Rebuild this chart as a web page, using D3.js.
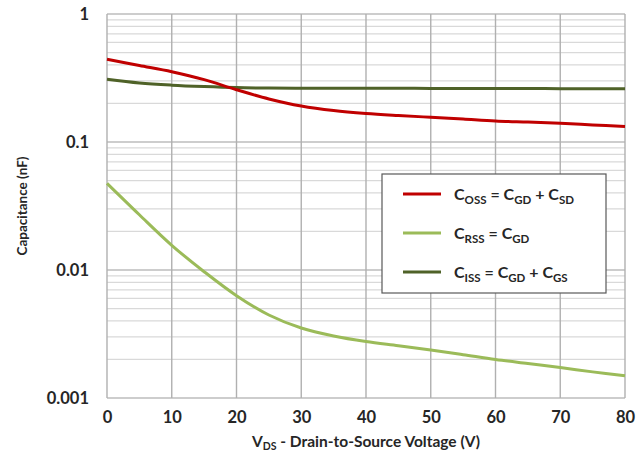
<!DOCTYPE html>
<html><head><meta charset="utf-8">
<script src="https://cdn.jsdelivr.net/npm/d3@7"></script>
<style>
html,body{margin:0;padding:0;background:#fff;}
svg{display:block;font-family:Lato,"Open Sans",sans-serif;}
</style></head>
<body><svg id="c" width="636" height="465"></svg>
<script>
const vds = [0,5,10,15,20,25,30,35,40,45,50,55,60,65,70,75,80];
const coss = [0.443,0.396,0.354,0.307,0.256,0.217,0.191,0.176,0.167,0.161,0.156,0.151,0.146,0.143,0.140,0.136,0.132];
const crss = [0.0475,0.0270,0.0156,0.0097,0.00630,0.00445,0.00352,0.00305,0.00276,0.00256,0.00237,0.00218,0.0020,0.00186,0.00173,0.0016,0.00149];
const ciss = [0.309,0.289,0.278,0.271,0.266,0.264,0.263,0.263,0.263,0.263,0.262,0.262,0.262,0.262,0.261,0.261,0.261];
const xTicks = [0,10,20,30,40,50,60,70,80];
const yTicks = [1,0.1,0.01,0.001];
const yTickLabels = ["1","0.1","0.01","0.001"];

const svg = d3.select("#c");
const L=107,R=625,T=14,B=398;
const x = d3.scaleLinear().domain([0,80]).range([L,R]);
const y = d3.scaleLog().domain([0.001,1]).range([B,T]);

const minor=[];
[0.001,0.01,0.1].forEach(d=>{for(let k=2;k<=9;k++)minor.push(d*k);});
svg.append("g").selectAll("line").data(minor).join("line")
  .attr("x1",L).attr("x2",R).attr("y1",d=>y(d)).attr("y2",d=>y(d))
  .attr("stroke","#d9d9d9").attr("stroke-width",1.2);
svg.append("g").selectAll("line").data(yTicks).join("line")
  .attr("x1",L).attr("x2",R).attr("y1",d=>y(d)).attr("y2",d=>y(d))
  .attr("stroke","#bdbdbd").attr("stroke-width",1.4);
svg.append("g").selectAll("line").data(xTicks).join("line")
  .attr("x1",d=>x(d)).attr("x2",d=>x(d)).attr("y1",T).attr("y2",B)
  .attr("stroke","#b0b0b0").attr("stroke-width",1.4);

const xa = d3.axisBottom(x).tickValues(xTicks).tickSize(0).tickPadding(13).tickFormat(d3.format("d"));
const gx = svg.append("g").attr("transform",`translate(0,${B})`).call(xa);
gx.select(".domain").remove();
gx.selectAll("text").attr("font-size",16.5).attr("font-weight","bold").attr("fill","#262626").attr("font-family","Lato,'Open Sans',sans-serif");
const ya = d3.axisLeft(y).tickValues(yTicks).tickSize(0).tickPadding(18).tickFormat((d,i)=>yTickLabels[i]);
const gy = svg.append("g").attr("transform",`translate(${L},0)`).call(ya);
gy.select(".domain").remove();
gy.selectAll("text").attr("font-size",16.5).attr("font-weight","bold").attr("fill","#262626").attr("font-family","Lato,'Open Sans',sans-serif");

const xt = svg.append("text").attr("x",366).attr("y",447).attr("text-anchor","middle")
  .attr("font-size",15.5).attr("font-weight","bold").attr("fill","#262626");
xt.append("tspan").text("V");
xt.append("tspan").text("DS").attr("font-size",10.5).attr("dy",3);
xt.append("tspan").text(" - Drain-to-Source Voltage (V)").attr("dy",-3);
svg.append("text").attr("transform","translate(27,206) rotate(-90)").attr("text-anchor","middle")
  .attr("font-size",13.5).attr("font-weight","bold").attr("fill","#262626").text("Capacitance (nF)");

const series=[
  {vals:ciss,color:"#4f6228"},
  {vals:crss,color:"#9bbb59"},
  {vals:coss,color:"#c00000"}
];
const line = d3.line().curve(d3.curveCatmullRom.alpha(0.5));
series.forEach(s=>{
  svg.append("path").attr("d",line(vds.map((v,i)=>[x(v),y(s.vals[i])])))
    .attr("fill","none").attr("stroke",s.color).attr("stroke-width",3);
});

const lg = svg.append("g");
lg.append("rect").attr("x",382).attr("y",174).attr("width",224).attr("height",119)
  .attr("fill","#fff").attr("stroke","#595959").attr("stroke-width",1.2);
const leg=[
  {color:"#c00000",parts:[["C",0],["OSS",1],[" = C",0],["GD",1],[" + C",0],["SD",1]]},
  {color:"#9bbb59",parts:[["C",0],["RSS",1],[" = C",0],["GD",1]]},
  {color:"#4f6228",parts:[["C",0],["ISS",1],[" = C",0],["GD",1],[" + C",0],["GS",1]]}
];
const ly=[194,233,272];
leg.forEach((l,i)=>{
  lg.append("line").attr("x1",403).attr("x2",441).attr("y1",ly[i]).attr("y2",ly[i])
    .attr("stroke",l.color).attr("stroke-width",3);
  const t=lg.append("text").attr("x",454).attr("y",ly[i]+6).attr("font-size",16).attr("font-weight","bold").attr("fill","#262626");
  let prev=0;
  l.parts.forEach(p=>{
    const sub=p[1];
    const dy=(sub?4:0)-(prev?4:0);
    t.append("tspan").text(p[0]).attr("font-size",sub?11.5:16).attr("dy",dy);
    prev=sub;
  });
});
</script></body></html>
